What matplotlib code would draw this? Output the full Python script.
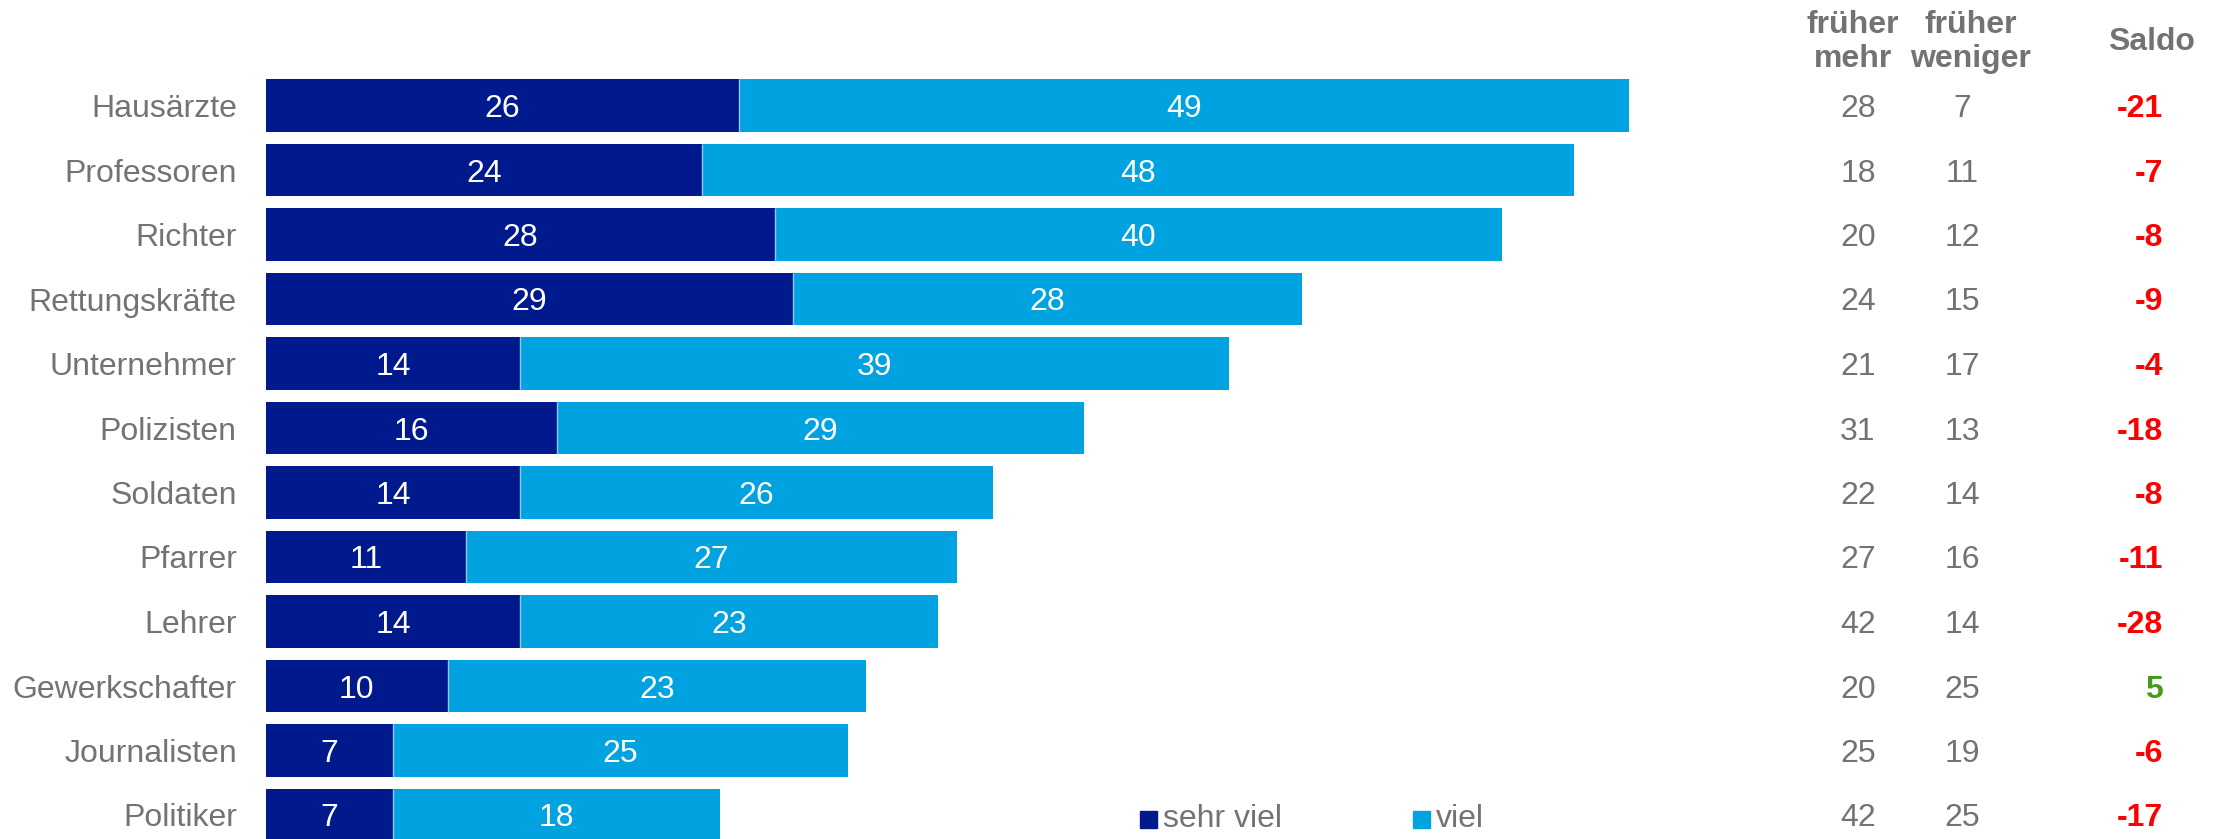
import matplotlib
matplotlib.use("Agg")
import matplotlib.pyplot as plt
from matplotlib.transforms import blended_transform_factory
from matplotlib.patches import Rectangle

plt.rcParams['font.family'] = ['Liberation Sans', 'DejaVu Sans']

categories = ["Hausärzte", "Professoren", "Richter", "Rettungskräfte", "Unternehmer",
              "Polizisten", "Soldaten", "Pfarrer", "Lehrer", "Gewerkschafter",
              "Journalisten", "Politiker"]
sehr_viel = [26, 24, 28, 29, 14, 16, 14, 11, 14, 10, 7, 7]
viel = [49, 48, 40, 28, 39, 29, 26, 27, 23, 23, 25, 18]
frueher_mehr = [28, 18, 20, 24, 21, 31, 22, 27, 42, 20, 25, 42]
frueher_weniger = [7, 11, 12, 15, 17, 13, 14, 16, 14, 25, 19, 25]
saldo = [-21, -7, -8, -9, -4, -18, -8, -11, -28, 5, -6, -17]
series_names = ["sehr viel", "viel"]

DARK = "#001A8E"
LIGHT = "#00A2DF"
GRAY = "#737373"
RED = "#FF0000"
GREEN = "#4A9A1E"
FS = 23

W, H = 2221, 839
fig = plt.figure(figsize=(W / 100, H / 100), dpi=100)

x0, x1 = 266, 1629
ax = fig.add_axes([x0 / W, 0, (x1 - x0) / W, 1])
row0, step = 105.5, 64.5
ax.set_ylim((H - row0) / step, -row0 / step)
ax.set_xlim(0, 75)

ypos = list(range(len(categories)))
ax.barh(ypos, sehr_viel, height=0.82, color=DARK, edgecolor="none")
ax.barh(ypos, viel, left=sehr_viel, height=0.82, color=LIGHT, edgecolor="none")
# thin light separator between segments
for i, s in enumerate(sehr_viel):
    ax.plot([s, s], [i - 0.41, i + 0.41], color="#8FC8F0", lw=1.0, solid_capstyle="butt")

for i, (a, b) in enumerate(zip(sehr_viel, viel)):
    ax.text(a / 2, i, str(a), ha="center", va="center_baseline", color="white", fontsize=FS)
    ax.text(a + b / 2, i, str(b), ha="center", va="center_baseline", color="white", fontsize=FS)

ax.set_yticks(ypos)
ax.set_yticklabels(categories, fontsize=FS, color=GRAY)
ax.tick_params(axis="y", length=0, pad=21)
ax.set_xticks([])
for sp in ax.spines.values():
    sp.set_visible(False)

tr = blended_transform_factory(fig.transFigure, ax.transData)
for i in ypos:
    ax.text(1858 / W, i, str(frueher_mehr[i]), transform=tr, ha="center", va="center_baseline",
            fontsize=FS, color=GRAY)
    ax.text(1962 / W, i, str(frueher_weniger[i]), transform=tr, ha="center", va="center_baseline",
            fontsize=FS, color=GRAY)
    v = saldo[i]
    ax.text(2163 / W, i, str(v), transform=tr, ha="right", va="center_baseline",
            fontsize=FS, fontweight="bold", color=GREEN if v > 0 else RED)

fig.text(1853 / W, 1 - 42 / H, "früher\nmehr", ha="center", va="center", fontsize=FS,
         fontweight="bold", color=GRAY, linespacing=1.15)
fig.text(1971 / W, 1 - 42 / H, "früher\nweniger", ha="center", va="center", fontsize=FS,
         fontweight="bold", color=GRAY, linespacing=1.15)
fig.text(2151 / W, 1 - 39 / H, "Saldo", ha="center", va="center_baseline", fontsize=FS,
         fontweight="bold", color=GRAY)

# legend
for (sx, tx), name, col in zip([(1140, 1163), (1413, 1436)], series_names, [DARK, LIGHT]):
    fig.patches.append(Rectangle((sx / W, 1 - 828 / H), 17 / W, 17 / H,
                                 transform=fig.transFigure, color=col))
    fig.text(tx / W, 1 - 819 / H, name, ha="left", va="center", fontsize=FS, color=GRAY)

fig.savefig("out.png", dpi=100)
